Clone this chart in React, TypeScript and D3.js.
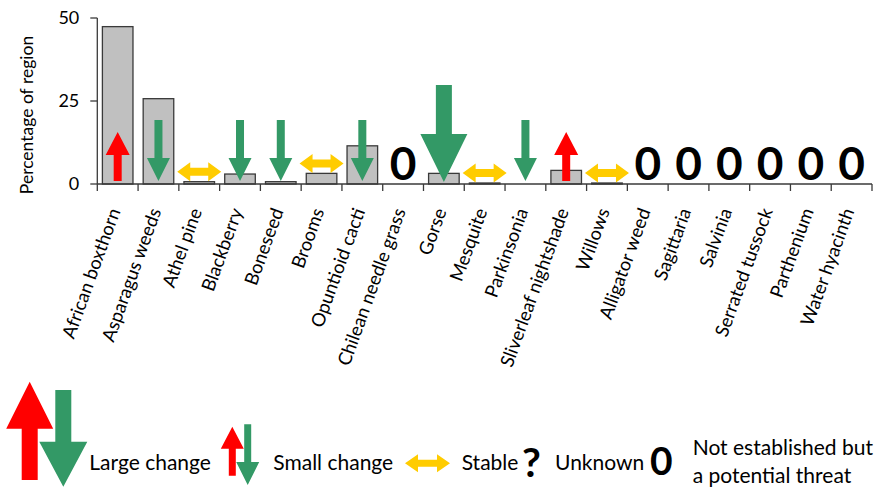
import React from "react";
import { scaleBand, scaleLinear } from "d3";

// Datos del gráfico
const categories = [
  "African boxthorn",
  "Asparagus weeds",
  "Athel pine",
  "Blackberry",
  "Boneseed",
  "Brooms",
  "Opuntioid cacti",
  "Chilean needle grass",
  "Gorse",
  "Mesquite",
  "Parkinsonia",
  "Sliverleaf nightshade",
  "Willows",
  "Alligator weed",
  "Sagittaria",
  "Salvinia",
  "Serrated tussock",
  "Parthenium",
  "Water hyacinth",
];

const values = [47.4, 25.7, 0.7, 3.0, 0.7, 3.2, 11.5, 0, 3.2, 0.3, 0, 4.1, 0.3, 0, 0, 0, 0, 0, 0];

// up = aumento pequeño, down = descenso pequeño, bigDown = descenso grande
const trends = [
  "up",
  "down",
  "stable",
  "down",
  "down",
  "stable",
  "down",
  "zero",
  "bigDown",
  "stable",
  "down",
  "up",
  "stable",
  "zero",
  "zero",
  "zero",
  "zero",
  "zero",
  "zero",
];

const yTicks = [0, 25, 50];
const yTitle = "Percentage of region";

const legendLabels = ["Large change", "Small change", "Stable", "Unknown"];
const legendZeroLines = ["Not established but", "a potential threat"];

const RED = "#ff0000";
const GREEN = "#339966";
const YELLOW = "#ffcc00";
const FONT = "Lato, 'Open Sans', sans-serif";

const W = 881;
const H = 488;
const margin = { left: 97.3, right: 9, top: 18, bottomAxis: 184 };

// Flecha vertical: cola en y0, punta en y1
const vArrow = (cx: number, y0: number, y1: number, shaft: number, head: number, headLen: number) => {
  const dir = y1 > y0 ? 1 : -1;
  const yb = y1 - dir * headLen;
  return [
    `M${cx - shaft / 2},${y0}`,
    `L${cx + shaft / 2},${y0}`,
    `L${cx + shaft / 2},${yb}`,
    `L${cx + head / 2},${yb}`,
    `L${cx},${y1}`,
    `L${cx - head / 2},${yb}`,
    `L${cx - shaft / 2},${yb}`,
    "Z",
  ].join("");
};

// Flecha doble horizontal
const hArrow = (cx: number, cy: number, w: number, h: number, shaft: number, headLen: number) => {
  const l = cx - w / 2;
  const r = cx + w / 2;
  return [
    `M${l},${cy}`,
    `L${l + headLen},${cy - h / 2}`,
    `L${l + headLen},${cy - shaft / 2}`,
    `L${r - headLen},${cy - shaft / 2}`,
    `L${r - headLen},${cy - h / 2}`,
    `L${r},${cy}`,
    `L${r - headLen},${cy + h / 2}`,
    `L${r - headLen},${cy + shaft / 2}`,
    `L${l + headLen},${cy + shaft / 2}`,
    `L${l + headLen},${cy + h / 2}`,
    "Z",
  ].join("");
};

const App: React.FC = () => {
  const xScale = scaleBand<string>()
    .domain(categories)
    .range([margin.left, W - margin.right])
    .paddingInner(0.25)
    .paddingOuter(0.125);

  const yScale = scaleLinear().domain([0, 50]).range([margin.bottomAxis, margin.top]);

  const step = xScale.step();
  const bw = xScale.bandwidth();
  const y0 = yScale(0);

  return (
    <>
      <style>{"body{margin:0}"}</style>
      <svg width={W} height={H} style={{ display: "block", background: "#fff" }} fontFamily={FONT}>
        {/* Barras */}
        {categories.map((c, i) =>
          values[i] > 0 ? (
            <rect
              key={c}
              x={xScale(c)}
              y={yScale(values[i])}
              width={bw}
              height={y0 - yScale(values[i])}
              fill="#c0c0c0"
              stroke="#3a3a3a"
              strokeWidth={1.3}
            />
          ) : null
        )}

        {/* Símbolos de tendencia */}
        {categories.map((c, i) => {
          const cx = (xScale(c) ?? 0) + bw / 2;
          const t = trends[i];
          if (t === "up") return <path key={c} d={vArrow(cx, y0 - 3, y0 - 52, 8, 24, 23)} fill={RED} />;
          if (t === "down") return <path key={c} d={vArrow(cx, y0 - 64, y0 - 3, 8, 23, 23)} fill={GREEN} />;
          if (t === "bigDown") return <path key={c} d={vArrow(cx, y0 - 99, y0 - 2, 16, 47, 48)} fill={GREEN} />;
          if (t === "stable")
            return <path key={c} d={hArrow(cx, yScale(values[i]) - 10, 44, 19, 8, 13)} fill={YELLOW} />;
          return (
            <text key={c} x={cx} y={y0 - 4} textAnchor="middle" fontSize={46} fontWeight={700} fill="#000">
              0
            </text>
          );
        })}

        {/* Eje Y */}
        <line x1={margin.left} x2={margin.left} y1={yScale(50)} y2={y0} stroke="#3a3a3a" strokeWidth={1.3} />
        {yTicks.map((t) => (
          <g key={t} transform={`translate(${margin.left},${yScale(t)})`}>
            <line x1={-7} x2={0} stroke="#3a3a3a" strokeWidth={1.3} />
            <text x={-18} dy="0.36em" textAnchor="end" fontSize={18} fill="#000">
              {t}
            </text>
          </g>
        ))}
        <text transform="translate(33,115) rotate(-90)" textAnchor="middle" fontSize={17.5} fill="#000">
          {yTitle}
        </text>

        {/* Eje X */}
        <line x1={margin.left} x2={W - margin.right} y1={y0} y2={y0} stroke="#3a3a3a" strokeWidth={1.3} />
        {categories.map((c, i) => (
          <line
            key={c}
            x1={margin.left + step * i}
            x2={margin.left + step * i}
            y1={y0}
            y2={y0 + 7}
            stroke="#3a3a3a"
            strokeWidth={1.3}
          />
        ))}
        <line x1={W - margin.right} x2={W - margin.right} y1={y0} y2={y0 + 7} stroke="#3a3a3a" strokeWidth={1.3} />
        {categories.map((c) => (
          <text
            key={c}
            transform={`translate(${(xScale(c) ?? 0) + bw / 2 + 3},211) rotate(-70)`}
            textAnchor="end"
            fontSize={18.5}
            fill="#000"
          >
            {c}
          </text>
        ))}

        {/* Leyenda */}
        <g>
          <path d={vArrow(29.7, 480, 381.7, 16, 47, 47)} fill={RED} />
          <path d={vArrow(63.3, 390, 486.7, 16, 48, 45)} fill={GREEN} />
          <text x={89.3} y={470} fontSize={21} fill="#000">
            {legendLabels[0]}
          </text>
          <path d={vArrow(232.3, 475.7, 426.7, 7, 23, 22)} fill={RED} />
          <path d={vArrow(247.7, 424.3, 485, 7, 23, 23)} fill={GREEN} />
          <text x={273.3} y={470} fontSize={21} fill="#000">
            {legendLabels[1]}
          </text>
          <path d={hArrow(427.5, 463.3, 45, 18, 7, 13)} fill={YELLOW} />
          <text x={461.7} y={470} fontSize={21} fill="#000">
            {legendLabels[2]}
          </text>
          <text x={522} y={476.7} fontSize={41} fontWeight={700} fill="#000">
            ?
          </text>
          <text x={555} y={470} fontSize={21} fill="#000">
            {legendLabels[3]}
          </text>
          <text x={650} y={475} fontSize={39} fontWeight={700} fill="#000">
            0
          </text>
          {legendZeroLines.map((l, i) => (
            <text key={l} x={692.7} y={455 + i * 28} fontSize={21} fill="#000">
              {l}
            </text>
          ))}
        </g>
      </svg>
    </>
  );
};

export default App;
